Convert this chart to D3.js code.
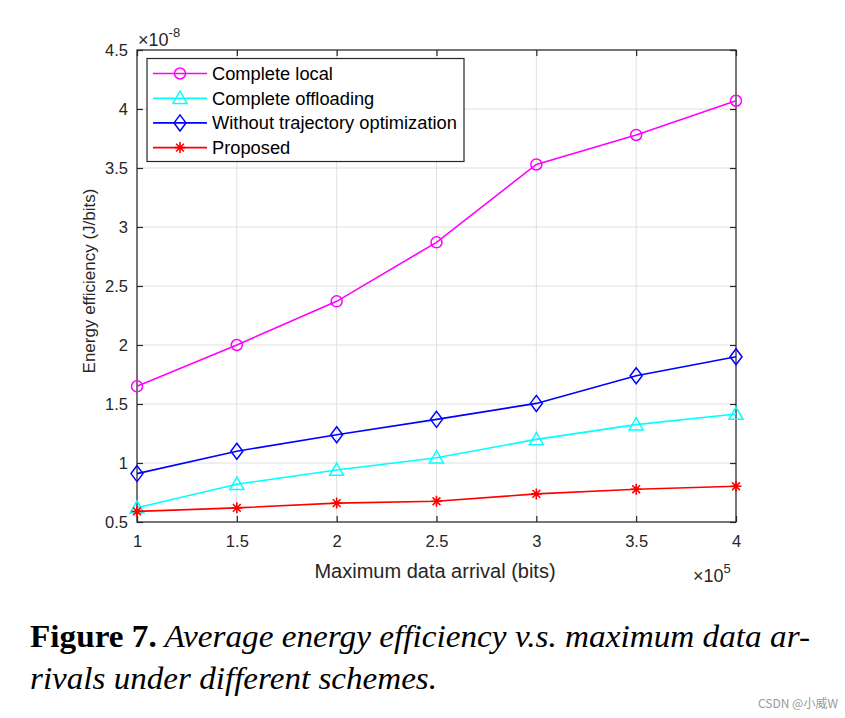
<!DOCTYPE html>
<html><head><meta charset="utf-8">
<script src="https://cdn.jsdelivr.net/npm/d3@7"></script>
<style>body{margin:0;background:#fff}</style>
</head><body>
<svg id="c" width="845" height="718"></svg>
<script>
const xValues = [1, 1.5, 2, 2.5, 3, 3.5, 4];
const completeLocal = [1.65, 2.00, 2.37, 2.87, 3.53, 3.78, 4.07];
const completeOffloading = [0.62, 0.82, 0.94, 1.045, 1.20, 1.325, 1.415];
const withoutTrajectory = [0.91, 1.10, 1.24, 1.37, 1.505, 1.74, 1.90];
const proposed = [0.59, 0.62, 0.66, 0.676, 0.738, 0.778, 0.803];
const xTicks = [1, 1.5, 2, 2.5, 3, 3.5, 4];
const yTicks = [0.5, 1, 1.5, 2, 2.5, 3, 3.5, 4, 4.5];
const seriesNames = ["Complete local", "Complete offloading", "Without trajectory optimization", "Proposed"];

const series = [
  {name: seriesNames[0], values: completeLocal, color: "#ff00ff", marker: "circle"},
  {name: seriesNames[1], values: completeOffloading, color: "#00ffff", marker: "triangle"},
  {name: seriesNames[2], values: withoutTrajectory, color: "#0000ff", marker: "diamond"},
  {name: seriesNames[3], values: proposed, color: "#ff0000", marker: "star"}
];

const svg = d3.select("#c");
const L = 137, R = 736, T = 50, B = 522;
const x = d3.scaleLinear().domain([1, 4]).range([L, R]);
const y = d3.scaleLinear().domain([0.5, 4.5]).range([B, T]);
const font = "'Liberation Sans', Arial, sans-serif";
const axisColor = "#262626";

// grid
const g = svg.append("g");
g.selectAll(".vx").data(xTicks).enter().append("line")
  .attr("x1", d => x(d)).attr("x2", d => x(d)).attr("y1", T).attr("y2", B)
  .attr("stroke", "#dfdfdf").attr("stroke-width", 1);
g.selectAll(".hy").data(yTicks).enter().append("line")
  .attr("y1", d => y(d)).attr("y2", d => y(d)).attr("x1", L).attr("x2", R)
  .attr("stroke", "#dfdfdf").attr("stroke-width", 1);

// axes
function styleAxis(sel) {
  sel.selectAll("path").remove();
  sel.selectAll("line").attr("stroke", axisColor).attr("stroke-width", 1.2);
  sel.selectAll("text").attr("fill", axisColor).attr("font-family", font).attr("font-size", 16.5);
}
const ax = svg.append("g").attr("transform", `translate(0,${B})`)
  .call(d3.axisBottom(x).tickValues(xTicks).tickFormat(d3.format("")).tickSizeInner(-6).tickPadding(13));
styleAxis(ax);
const axTop = svg.append("g").attr("transform", `translate(0,${T})`)
  .call(d3.axisTop(x).tickValues(xTicks).tickFormat("").tickSizeInner(-6));
styleAxis(axTop);
const ay = svg.append("g").attr("transform", `translate(${L},0)`)
  .call(d3.axisLeft(y).tickValues(yTicks).tickFormat(d3.format("")).tickSizeInner(-6).tickPadding(9));
styleAxis(ay);
const ayR = svg.append("g").attr("transform", `translate(${R},0)`)
  .call(d3.axisRight(y).tickValues(yTicks).tickFormat("").tickSizeInner(-6));
styleAxis(ayR);
svg.append("rect").attr("x", L).attr("y", T).attr("width", R - L).attr("height", B - T)
  .attr("fill", "none").attr("stroke", axisColor).attr("stroke-width", 1.2);

// markers
function drawMarker(sel, type, color, cx, cy) {
  if (type === "circle") {
    sel.append("circle").attr("cx", cx).attr("cy", cy).attr("r", 5.5)
      .attr("fill", "none").attr("stroke", color).attr("stroke-width", 1.5);
  } else if (type === "triangle") {
    const s = 7;
    sel.append("path").attr("d", `M${cx},${cy - s} L${cx + s},${cy + s * 0.75} L${cx - s},${cy + s * 0.75} Z`)
      .attr("fill", "none").attr("stroke", color).attr("stroke-width", 1.5);
  } else if (type === "diamond") {
    const w = 6, h = 8;
    sel.append("path").attr("d", `M${cx},${cy - h} L${cx + w},${cy} L${cx},${cy + h} L${cx - w},${cy} Z`)
      .attr("fill", "none").attr("stroke", color).attr("stroke-width", 1.5);
  } else {
    const s = 5.5;
    let d = "";
    for (let k = 0; k < 4; k++) {
      const a = k * Math.PI / 4;
      d += `M${cx - s * Math.cos(a)},${cy - s * Math.sin(a)} L${cx + s * Math.cos(a)},${cy + s * Math.sin(a)} `;
    }
    sel.append("path").attr("d", d).attr("stroke", color).attr("stroke-width", 1.6).attr("fill", "none");
  }
}

const line = d3.line().x((d, i) => x(xValues[i])).y(d => y(d));
series.forEach(s => {
  svg.append("path").datum(s.values).attr("d", line)
    .attr("fill", "none").attr("stroke", s.color).attr("stroke-width", 1.6);
  const mg = svg.append("g");
  s.values.forEach((v, i) => drawMarker(mg, s.marker, s.color, x(xValues[i]), y(v)));
});

// legend
const lg = svg.append("g");
lg.append("rect").attr("x", 147).attr("y", 58.5).attr("width", 317).attr("height", 103)
  .attr("fill", "#fff").attr("stroke", axisColor).attr("stroke-width", 1.2);
series.forEach((s, i) => {
  const yy = 73.5 + i * 24.7;
  lg.append("line").attr("x1", 153).attr("x2", 207).attr("y1", yy).attr("y2", yy)
    .attr("stroke", s.color).attr("stroke-width", 1.6);
  drawMarker(lg, s.marker, s.color, 180, yy);
  lg.append("text").attr("x", 212).attr("y", yy + 6.5).text(s.name)
    .attr("font-family", font).attr("font-size", 18.3).attr("fill", "#000");
});

// axis labels
svg.append("text").attr("x", 435).attr("y", 578).attr("text-anchor", "middle")
  .attr("font-family", font).attr("font-size", 20).attr("fill", axisColor)
  .text("Maximum data arrival (bits)");
svg.append("text").attr("transform", `translate(95,281) rotate(-90)`).attr("text-anchor", "middle")
  .attr("font-family", font).attr("font-size", 17).attr("fill", axisColor)
  .text("Energy efficiency (J/bits)");

// exponents
const e1 = svg.append("text").attr("x", 693).attr("y", 582).attr("font-family", font).attr("font-size", 18).attr("fill", axisColor);
e1.append("tspan").text("×10");
e1.append("tspan").attr("dy", -9).attr("font-size", 13).text("5");
const e2 = svg.append("text").attr("x", 138).attr("y", 46).attr("font-family", font).attr("font-size", 18).attr("fill", axisColor);
e2.append("tspan").text("×10");
e2.append("tspan").attr("dy", -9).attr("font-size", 13).text("-8");

// caption
const serif = "'Liberation Serif', 'Times New Roman', serif";
const c1 = svg.append("text").attr("x", 30).attr("y", 647).attr("font-family", serif).attr("font-size", 31)
  .attr("fill", "#000").attr("textLength", 780).attr("lengthAdjust", "spacingAndGlyphs");
c1.append("tspan").attr("font-weight", "bold").text("Figure 7.");
c1.append("tspan").attr("font-style", "italic").text(" Average energy efficiency v.s. maximum data ar-");
svg.append("text").attr("x", 30).attr("y", 689).attr("font-family", serif).attr("font-size", 31)
  .attr("font-style", "italic").attr("fill", "#000").attr("textLength", 407).attr("lengthAdjust", "spacingAndGlyphs")
  .text("rivals under different schemes.");

svg.append("text").attr("x", 838).attr("y", 708).attr("text-anchor", "end")
  .attr("font-family", "'Noto Sans CJK SC', sans-serif").attr("font-size", 12).attr("fill", "#999")
  .text("CSDN @小威W");
</script>
</body></html>
